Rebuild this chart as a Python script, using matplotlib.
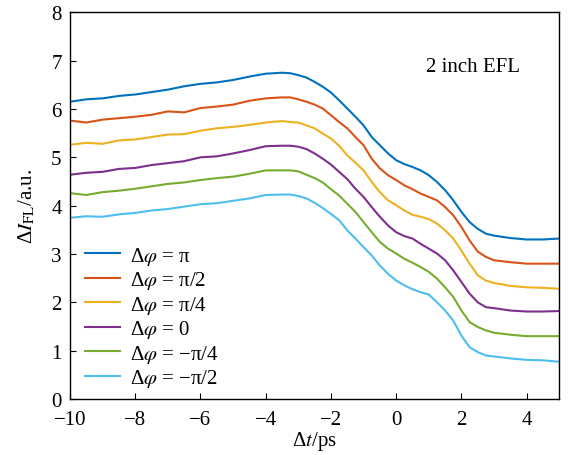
import matplotlib
matplotlib.use("Agg")
import matplotlib.pyplot as plt
import numpy as np

plt.rcParams['font.family'] = ['Liberation Serif', 'DejaVu Serif']
plt.rcParams['mathtext.fontset'] = 'stix'
plt.rcParams['font.size'] = 15

# time delay (ps): coarse on the plateaus, finer through the drop
dt = np.concatenate([np.arange(-10, -3.9, 0.5),
                     np.arange(-3.5, 3.01, 0.25),
                     np.arange(3.5, 5.01, 0.5)])

fl_pi = [6.15, 6.20, 6.22, 6.27, 6.30, 6.35, 6.40, 6.47, 6.52, 6.55, 6.60, 6.67, 6.73,
         6.75, 6.74, 6.70, 6.65, 6.56, 6.46, 6.34, 6.18, 6.01, 5.84, 5.66,
         5.42, 5.25, 5.08, 4.94, 4.86, 4.80, 4.73, 4.63, 4.49, 4.32, 4.11, 3.87, 3.66,
         3.52, 3.42, 3.38,
         3.33, 3.30, 3.30, 3.32]
fl_pi2 = [5.76, 5.72, 5.78, 5.81, 5.84, 5.88, 5.95, 5.93, 6.02, 6.05, 6.09, 6.17, 6.22,
          6.24, 6.24, 6.20, 6.15, 6.09, 6.01, 5.87, 5.73, 5.60, 5.42, 5.25,
          4.97, 4.77, 4.63, 4.53, 4.42, 4.34, 4.25, 4.18, 4.11, 3.97, 3.80, 3.56, 3.28,
          3.05, 2.94, 2.87,
          2.83, 2.80, 2.80, 2.80]
fl_pi4 = [5.26, 5.30, 5.28, 5.35, 5.37, 5.42, 5.47, 5.48, 5.55, 5.60, 5.63, 5.67, 5.72,
          5.75, 5.73, 5.72, 5.66, 5.60, 5.49, 5.39, 5.24, 5.04, 4.89, 4.73,
          4.49, 4.28, 4.11, 4.01, 3.90, 3.81, 3.77, 3.72, 3.63, 3.49, 3.32, 3.07, 2.80,
          2.56, 2.45, 2.40,
          2.34, 2.31, 2.30, 2.28]
fl_0 = [4.64, 4.68, 4.70, 4.76, 4.78, 4.84, 4.88, 4.92, 5.00, 5.02, 5.08, 5.15, 5.23,
        5.24, 5.24, 5.22, 5.17, 5.08, 4.97, 4.85, 4.70, 4.55, 4.35, 4.18,
        3.97, 3.77, 3.59, 3.45, 3.37, 3.32, 3.21, 3.11, 3.01, 2.87, 2.66, 2.42, 2.18,
        2.00, 1.90, 1.88,
        1.83, 1.81, 1.81, 1.82]
fl_mpi4 = [4.26, 4.22, 4.28, 4.31, 4.35, 4.40, 4.45, 4.48, 4.53, 4.57, 4.60, 4.66, 4.73,
           4.73, 4.73, 4.71, 4.64, 4.57, 4.48, 4.34, 4.21, 4.04, 3.87, 3.66,
           3.45, 3.25, 3.11, 3.01, 2.90, 2.82, 2.73, 2.63, 2.49, 2.31, 2.11, 1.83, 1.59,
           1.49, 1.42, 1.37,
           1.33, 1.30, 1.30, 1.30]
fl_mpi2 = [3.75, 3.78, 3.77, 3.82, 3.85, 3.90, 3.93, 3.98, 4.03, 4.05, 4.10, 4.15, 4.22,
           4.23, 4.23, 4.20, 4.15, 4.06, 3.95, 3.83, 3.70, 3.49, 3.32, 3.14,
           2.97, 2.76, 2.59, 2.45, 2.35, 2.27, 2.21, 2.16, 2.00, 1.83, 1.62, 1.31, 1.07,
           0.97, 0.90, 0.88,
           0.84, 0.81, 0.80, 0.77]

labels = ['Δ$\\varphi$ = π', 'Δ$\\varphi$ = π/2', 'Δ$\\varphi$ = π/4',
          'Δ$\\varphi$ = 0', 'Δ$\\varphi$ = −π/4', 'Δ$\\varphi$ = −π/2']
colors = ['#0072BD', '#D95319', '#EDB120', '#7E2F8E', '#77AC30', '#4DBEEE']

fig = plt.figure(figsize=(5.68, 4.56), dpi=100)
ax = fig.add_axes([0.1232, 0.1228, 0.8615, 0.848])

for y, lab, c in zip([fl_pi, fl_pi2, fl_pi4, fl_0, fl_mpi4, fl_mpi2], labels, colors):
    ax.plot(dt, y, color=c, lw=1.5, label=lab)

ax.set_xlim(-10, 5)
ax.set_ylim(0, 8)
ax.set_xticks([-10, -8, -6, -4, -2, 0, 2, 4])
ax.set_yticks(range(9))
ax.tick_params(direction='in', length=4, width=0.8, top=False, right=False)
ax.tick_params(axis='x', pad=8)
ax.tick_params(axis='y', pad=6)
for s in ax.spines.values():
    s.set_linewidth(1.0)

ax.set_xlabel('Δ$\\mathit{t}$/ps', labelpad=0)
ax.set_ylabel('Δ$\\mathit{I}_{\\rm FL}$/a.u.', labelpad=10)
ax.text(0.92, 6.78, '2 inch EFL')

ax.legend(loc='lower left', bbox_to_anchor=(0.0, -0.012), frameon=False,
          handlelength=1.7, handletextpad=0.5, labelspacing=0.12, borderaxespad=0.3)

fig.savefig('out.png', dpi=100)
